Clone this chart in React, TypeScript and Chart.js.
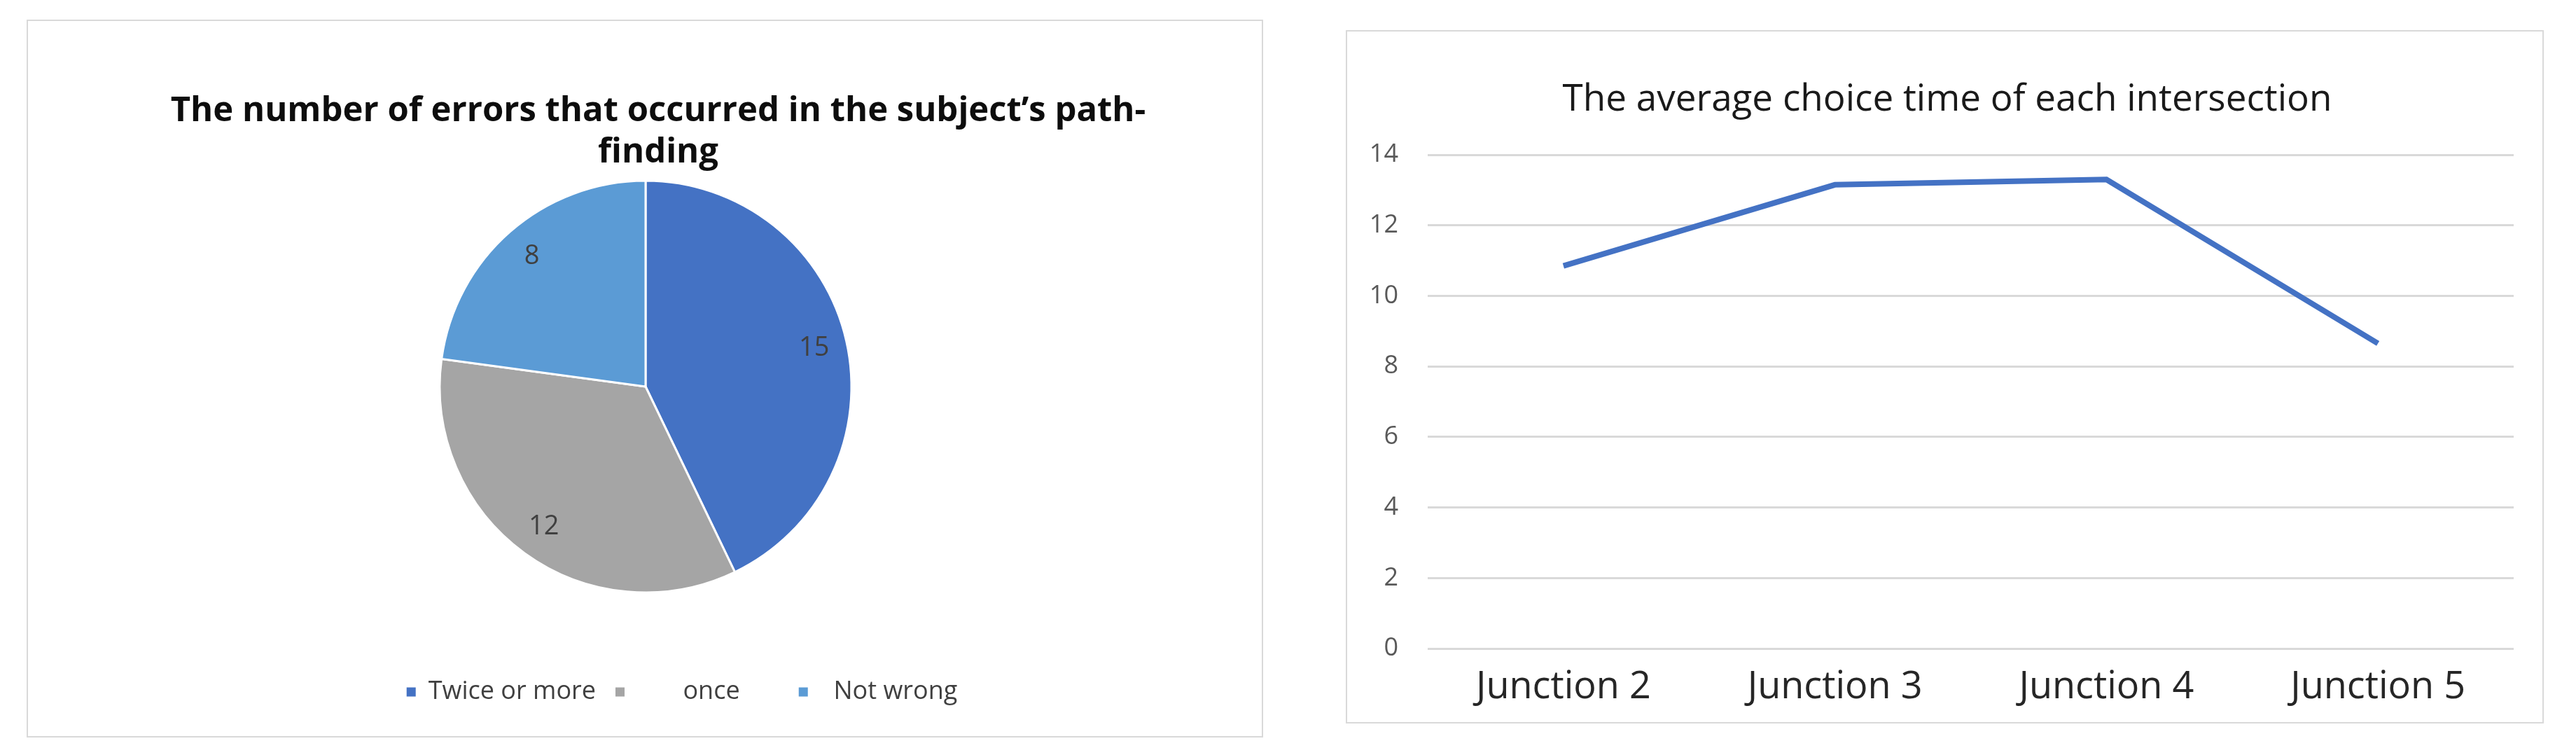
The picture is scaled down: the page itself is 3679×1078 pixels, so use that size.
import React, { useEffect, useRef } from 'react';
import { Chart, registerables } from 'chart.js';

Chart.register(...registerables);

// ---------- data ----------
const pieCategories = ['Twice or more', 'once', 'Not wrong'];
const pieLegendText = ['Twice or more', '       once      ', '  Not wrong'];
const pieValues = [15, 12, 8];
const pieColors = ['#4472C4', '#A5A5A5', '#5B9BD5'];
const pieTitle = ['The number of errors that occurred in the subject\u2019s path-', 'finding'];

const lineCategories = ['Junction 2', 'Junction 3', 'Junction 4', 'Junction 5'];
const lineValues = [10.85, 13.15, 13.3, 8.65];
const lineTitle = 'The average choice time of each intersection';
const yMin = 0;
const yMax = 14;
const yStep = 2;

const FONT = "'Open Sans', 'DejaVu Sans', sans-serif";

// ---------- plugins ----------
const shiftBoxes = {
  id: 'shiftBoxes',
  afterLayout(chart: any, _args: any, opts: any) {
    if (!opts) return;
    const t = chart.titleBlock;
    const l = chart.legend;
    if (t && opts.titleDx) {
      t.left += opts.titleDx;
      t.right += opts.titleDx;
    }
    if (l && opts.legendDx) {
      l.left += opts.legendDx;
      l.right += opts.legendDx;
    }
  },
};

const pieValueLabels = {
  id: 'pieValueLabels',
  afterDatasetsDraw(chart: any, _a: any, opts: any) {
    const ctx = chart.ctx;
    const meta = chart.getDatasetMeta(0);
    const values = chart.data.datasets[0].data;
    ctx.save();
    ctx.font = `${opts.size}px ${FONT}`;
    ctx.fillStyle = opts.color;
    ctx.textAlign = 'center';
    ctx.textBaseline = 'middle';
    meta.data.forEach((arc: any, i: number) => {
      const p = arc.getProps(['x', 'y', 'startAngle', 'endAngle', 'outerRadius'], true);
      const mid = (p.startAngle + p.endAngle) / 2;
      const r = p.outerRadius * opts.radiusFraction;
      ctx.fillText(String(values[i]), p.x + Math.cos(mid) * r, p.y + Math.sin(mid) * r);
    });
    ctx.restore();
  },
};

// ---------- charts ----------
function PieChart() {
  const ref = useRef<HTMLCanvasElement>(null);
  useEffect(() => {
    const chart = new Chart(ref.current as HTMLCanvasElement, {
      type: 'pie',
      data: {
        labels: pieCategories,
        datasets: [
          {
            data: pieValues,
            backgroundColor: pieColors,
            borderColor: '#ffffff',
            borderWidth: 3,
          },
        ],
      },
      options: {
        responsive: false,
        animation: false,
        layout: { padding: { left: 2, right: 0, top: 0, bottom: 35 } },
        plugins: {
          title: {
            display: true,
            text: pieTitle,
            color: '#0d0d0d',
            font: { family: FONT, size: 49, weight: 'bold', lineHeight: 59 / 49 },
            padding: { top: 99.5, bottom: 9 },
          },
          legend: {
            display: true,
            position: 'bottom',
            title: {
              display: true,
              text: '',
              font: { size: 10, lineHeight: 1 },
              padding: { top: 84.5, bottom: 0 },
            },
            labels: {
              boxWidth: 13,
              boxHeight: 13,
              padding: 28,
              color: '#404040',
              font: { family: FONT, size: 36 },
              generateLabels: (c: any) =>
                c.data.labels.map((_l: string, i: number) => ({
                  text: pieLegendText[i],
                  fillStyle: pieColors[i],
                  strokeStyle: pieColors[i],
                  lineWidth: 0,
                  hidden: false,
                  index: i,
                  fontColor: '#404040',
                })),
            },
          },
          tooltip: { enabled: false },
          shiftBoxes: { titleDx: 18, legendDx: 52 },
          pieValueLabels: { size: 38, color: '#404040', radiusFraction: 0.84 },
        } as any,
      },
      plugins: [shiftBoxes, pieValueLabels],
    } as any);
    return () => chart.destroy();
  }, []);
  return (
    <canvas
      ref={ref}
      width={1762}
      height={1021}
      style={{ position: 'absolute', left: 0, top: 0, width: 1762, height: 1021 }}
    />
  );
}

function LineChart() {
  const ref = useRef<HTMLCanvasElement>(null);
  useEffect(() => {
    const chart = new Chart(ref.current as HTMLCanvasElement, {
      type: 'line',
      data: {
        labels: lineCategories,
        datasets: [
          {
            data: lineValues,
            borderColor: '#4472C4',
            backgroundColor: '#4472C4',
            borderWidth: 8,
            pointRadius: 0,
            tension: 0,
            fill: false,
          },
        ],
      },
      options: {
        responsive: false,
        animation: false,
        layout: { padding: { left: 15, right: 41, top: 0, bottom: 0 } },
        plugins: {
          legend: { display: false },
          tooltip: { enabled: false },
          title: {
            display: true,
            text: lineTitle,
            color: '#1a1a1a',
            font: { family: FONT, size: 53, weight: '400', lineHeight: 1.2 },
            padding: { top: 66, bottom: 46.4 },
          },
          shiftBoxes: { titleDx: 16.5 },
        } as any,
        scales: {
          x: {
            type: 'category',
            offset: true,
            grid: { display: false, drawTicks: false },
            border: { display: false },
            ticks: {
              color: '#262626',
              font: { family: FONT, size: 54 },
              padding: 23,
              maxRotation: 0,
              autoSkip: false,
            },
            afterFit: (s: any) => {
              s.height = 105;
            },
          },
          y: {
            min: yMin,
            max: yMax,
            ticks: {
              stepSize: yStep,
              color: '#595959',
              font: { family: FONT, size: 36 },
              padding: 42,
            },
            grid: { color: '#d9d9d9', lineWidth: 3, drawTicks: false },
            border: { display: false },
            afterFit: (s: any) => {
              s.width = 100;
            },
          },
        },
      },
      plugins: [shiftBoxes],
    } as any);
    return () => chart.destroy();
  }, []);
  return (
    <canvas
      ref={ref}
      width={1707}
      height={986}
      style={{ position: 'absolute', left: 0, top: 0, width: 1707, height: 986 }}
    />
  );
}

export default function App() {
  return (
    <div
      style={{
        position: 'absolute',
        left: 0,
        top: 0,
        width: 3679,
        height: 1078,
        background: '#ffffff',
        overflow: 'hidden',
      }}
    >
      <div
        style={{
          position: 'absolute',
          left: 38,
          top: 28,
          width: 1766,
          height: 1025,
          border: '2px solid #d9d9d9',
          boxSizing: 'border-box',
        }}
      >
        <PieChart />
      </div>
      <div
        style={{
          position: 'absolute',
          left: 1922,
          top: 43,
          width: 1711,
          height: 990,
          border: '2px solid #d9d9d9',
          boxSizing: 'border-box',
        }}
      >
        <LineChart />
      </div>
    </div>
  );
}
